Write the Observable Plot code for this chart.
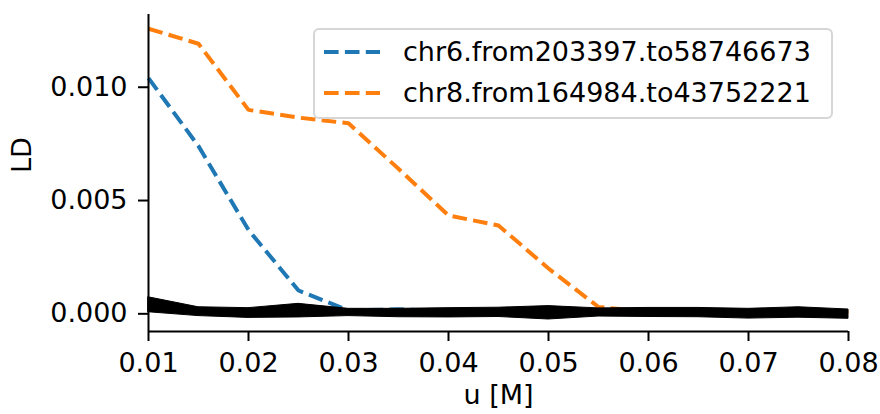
<!DOCTYPE html>
<html><head><meta charset="utf-8">
<script src="https://cdn.jsdelivr.net/npm/d3@7"></script>
<script src="https://cdn.jsdelivr.net/npm/@observablehq/plot@0.6"></script>
<style>
body{margin:0;background:#fff;}
#wrap{position:relative;width:880px;height:414px;font-family:"DejaVu Sans",sans-serif;color:#000;}
#legend{position:absolute;left:313px;top:28px;width:516px;height:87px;border:2px solid rgba(204,204,204,0.8);border-radius:6px;background:rgba(255,255,255,0.8);}
.row{position:absolute;left:0;height:40px;}
.row svg{position:absolute;left:9px;top:0;}
.row span{position:absolute;left:88px;top:0;line-height:40px;font-size:27px;white-space:nowrap;}
</style>
</head><body>
<div id="wrap"><div id="chart"></div><div id="legend"></div></div>
<script>
// ---- data ----
const uValues = [0.01, 0.015, 0.02, 0.025, 0.03, 0.035, 0.04, 0.045, 0.05, 0.055, 0.06, 0.065, 0.07, 0.075, 0.08];
const seriesNames = ["chr6.from203397.to58746673", "chr8.from164984.to43752221"];
const seriesColors = ["#1f77b4", "#ff7f0e"];
const chr6LD = [0.0104, 0.0074, 0.0037, 0.00103, 0.00015, 0.0002, 0.0001, 0.00008, 0.00005, 0.00005, 0.00003, 0.00005, 0.00003, 0.00004, 0.00003];
const chr8LD = [0.01258, 0.01192, 0.0090, 0.00866, 0.00841, 0.0064, 0.00434, 0.0039, 0.0020, 0.0003, 0.0001, 0.0001, 0.00005, 0.00005, 0.0001];
const nullUpper = [0.00073, 0.00029, 0.00025, 0.00044, 0.00022, 0.00022, 0.00025, 0.00027, 0.00034, 0.00024, 0.00026, 0.00026, 0.00022, 0.00029, 0.00019];
const nullLower = [0.00007, -0.0001, -0.00018, -0.00016, -0.0001, -0.00015, -0.00016, -0.00014, -0.00025, -0.00012, -0.00014, -0.00015, -0.00021, -0.00017, -0.00022];
const xTicks = [0.01, 0.02, 0.03, 0.04, 0.05, 0.06, 0.07, 0.08];
const yTicks = [0, 0.005, 0.010];
const xLabel = "u [M]";
const yLabel = "LD";

// ---- build tables ----
const lineRows = [];
[chr6LD, chr8LD].forEach((arr, i) => arr.forEach((v, j) => lineRows.push({u: uValues[j], ld: v, series: seriesNames[i]})));
const bandRows = uValues.map((u, j) => ({u, lo: nullLower[j], hi: nullUpper[j]}));

const xDomain = [0.01, 0.08];
const yDomain = [-0.00078, 0.01321];
const dash = "14.6,6.3";

const chart = Plot.plot({
  width: 880, height: 414,
  marginLeft: 148, marginRight: 32, marginTop: 14, marginBottom: 83,
  style: {fontFamily: "DejaVu Sans", fontSize: "27px", color: "#000", background: "#fff"},
  x: {domain: xDomain},
  y: {domain: yDomain},
  color: {domain: seriesNames, range: seriesColors},
  marks: [
    Plot.line(lineRows, {x: "u", y: "ld", z: "series", stroke: "series", strokeWidth: 4, strokeDasharray: dash, strokeLinejoin: "miter", strokeLinecap: "butt"}),
    Plot.areaY(bandRows, {x: "u", y1: "lo", y2: "hi", fill: "black", stroke: "black", strokeWidth: 1}),
    Plot.ruleX([xDomain[0]], {stroke: "black", strokeWidth: 2}),
    Plot.ruleY([yDomain[0]], {stroke: "black", strokeWidth: 2}),
    Plot.axisX({ticks: xTicks, tickFormat: d3.format(".2f"), tickSize: 10, tickPadding: 11, strokeWidth: 2, label: null}),
    Plot.axisY({ticks: yTicks, tickFormat: d3.format(".3f"), tickSize: 10, tickPadding: 11, strokeWidth: 2, label: null}),
    Plot.text([xLabel], {frameAnchor: "bottom", dy: 72, text: d => d, fontSize: 27}),
    Plot.text([yLabel], {frameAnchor: "left", dx: -126, rotate: -90, text: d => d, fontSize: 27})
  ]
});
document.getElementById("chart").appendChild(chart);

// ---- legend ----
const legend = document.getElementById("legend");
seriesNames.forEach((name, i) => {
  const row = document.createElement("div");
  row.className = "row";
  row.style.top = (2 + i * 41) + "px";
  row.innerHTML = `<svg width="60" height="40"><line x1="0" x2="56" y1="20" y2="20" stroke="${seriesColors[i]}" stroke-width="4" stroke-dasharray="${dash}"/></svg><span>${name}</span>`;
  legend.appendChild(row);
});
</script>
</body></html>
